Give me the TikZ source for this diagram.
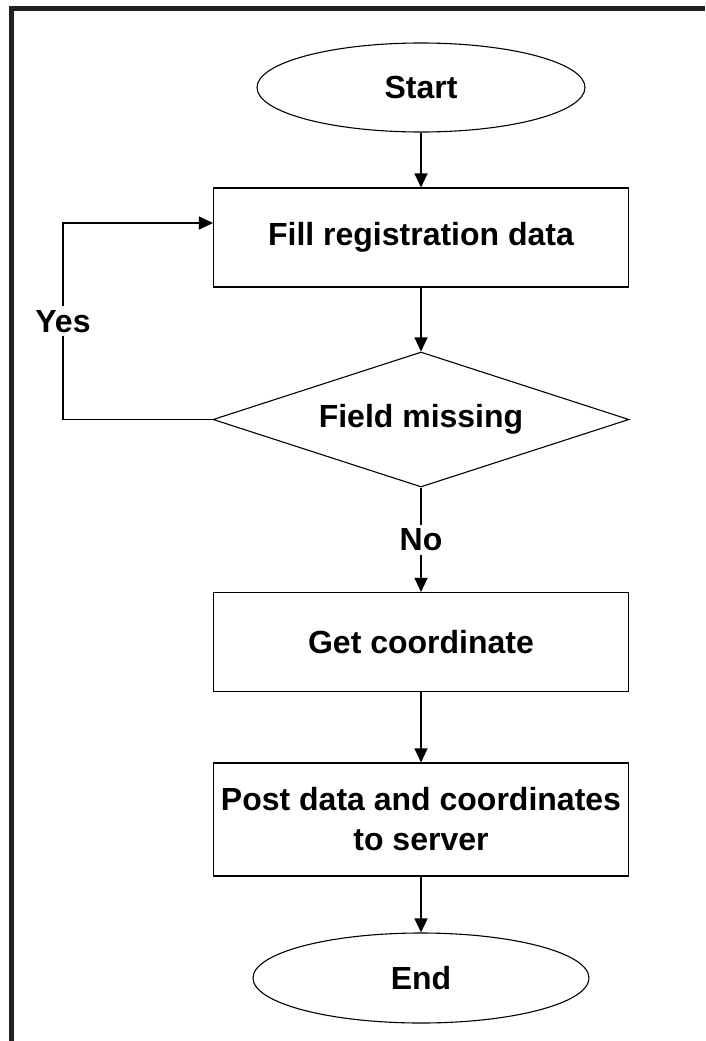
\documentclass[tikz,border=0pt]{standalone}
\usepackage{fontspec}
\setmainfont{Liberation Sans}
\usetikzlibrary{shapes.geometric,arrows.meta}
\begin{document}
\begin{tikzpicture}[x=1pt,y=-1pt,
  every node/.style={font=\fontsize{32}{40}\selectfont\bfseries, text=black},
  terminal/.style={draw=black, line width=1.1pt, ellipse, inner sep=0pt,
    minimum width=328pt, minimum height=89pt},
  process/.style={draw=black, line width=1.1pt, rectangle, inner sep=0pt,
    minimum width=415pt, minimum height=99pt, align=center},
  decision/.style={draw=black, line width=1.1pt, diamond, aspect=3, inner sep=0pt,
    minimum width=416pt, minimum height=135pt},
  flow/.style={draw=black, line width=1.1pt, -{Triangle[length=14pt,width=13pt]}},
  lbl/.style={fill=white, inner sep=4pt}
]
\useasboundingbox (0,0) rectangle (705,1041);
\fill[white] (0,0) rectangle (705,1041);

% frame along the top and left edges
\draw[line width=5pt, color=black!87] (11,1041) -- (11,9) -- (705,9);

% flowchart nodes
\node[terminal] (start) at (421,87.5) {Start};
\node[process]  (fill)  at (421,237.5) {Fill registration data};
\node[decision] (miss)  at (421,419.5) {Field missing};
\node[process]  (coord) at (421,642) {Get coordinate};
\node[process, minimum height=113pt] (post) at (421,819.5) {Post data and coordinates\\to server};
\node[terminal, minimum width=336pt, minimum height=90pt] (end) at (421,978) {End};

% loop-back corner points
\coordinate (yb) at (63,419.5);
\coordinate (yt) at (63,223);

% connectors
\draw[flow] (start) -- (fill);
\draw[flow] (fill) -- (miss);
\draw[flow] (miss.west) -- (yb) -- node[lbl] {Yes} (yt) -- (yt -| fill.west);
\draw[flow] (miss.south) -- node[lbl] {No} (coord.north);
\draw[flow] (coord) -- (post);
\draw[flow] (post) -- (end);
\end{tikzpicture}
\end{document}
